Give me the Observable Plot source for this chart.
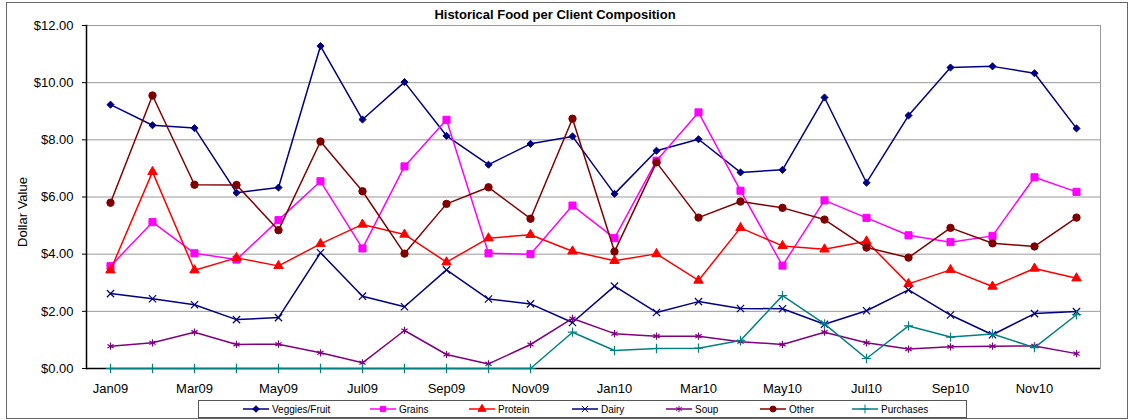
<!DOCTYPE html>
<html><head><meta charset="utf-8">
<script src="https://cdn.jsdelivr.net/npm/d3@7"></script>
<script src="https://cdn.jsdelivr.net/npm/@observablehq/plot@0.6"></script>
<style>
body{margin:0;background:#fff;font-family:Arial,"Liberation Sans",sans-serif;}
#wrap{position:relative;width:1129px;height:420px;overflow:hidden;}
#frame{position:absolute;left:6px;top:2px;width:1122px;height:417px;border:1px solid #666;box-sizing:border-box;pointer-events:none;}
#title{position:absolute;top:7px;left:555px;transform:translateX(-50%);font-weight:bold;font-size:13px;white-space:nowrap;color:#000;}
#ylab{position:absolute;left:22px;top:212px;transform:translate(-50%,-50%) rotate(-90deg);font-size:13px;white-space:nowrap;color:#000;}
#legend{position:absolute;left:198px;top:400px;width:769px;height:18px;border:1px solid #555;box-sizing:border-box;background:#fff;}
.li{position:absolute;top:0;height:16px;display:flex;align-items:center;font-size:10px;color:#000;white-space:nowrap;}
.li svg{margin-right:3px;}
#chart{position:absolute;left:0;top:0;}
</style></head>
<body>
<div id="wrap">
  <div id="chart"></div>
  <div id="frame"></div>
  <div id="title"></div>
  <div id="ylab"></div>
  <div id="legend"></div>
</div>
<script>
const months = ["Jan09","Feb09","Mar09","Apr09","May09","Jun09","Jul09","Aug09","Sep09","Oct09","Nov09","Dec09",
                "Jan10","Feb10","Mar10","Apr10","May10","Jun10","Jul10","Aug10","Sep10","Oct10","Nov10","Dec10"];
const xTickLabels = ["Jan09","Mar09","May09","Jul09","Sep09","Nov09","Jan10","Mar10","May10","Jul10","Sep10","Nov10"];
const yTicks = [0,2,4,6,8,10,12];

const veggiesFruit = [9.23,8.51,8.41,6.15,6.33,11.28,8.71,10.02,8.14,7.13,7.86,8.12,6.11,7.62,8.02,6.86,6.95,9.48,6.50,8.85,10.53,10.57,10.33,8.40];
const grains       = [3.58,5.12,4.03,3.81,5.19,6.55,4.20,7.07,8.70,4.03,4.00,5.70,4.56,7.27,8.96,6.22,3.60,5.88,5.27,4.66,4.42,4.64,6.69,6.18];
const protein      = [3.44,6.88,3.44,3.87,3.59,4.36,5.04,4.69,3.72,4.56,4.68,4.10,3.77,4.01,3.08,4.92,4.29,4.17,4.45,2.96,3.45,2.87,3.50,3.16];
const dairy        = [2.62,2.44,2.23,1.71,1.78,4.05,2.53,2.16,3.45,2.43,2.26,1.61,2.88,1.96,2.34,2.10,2.09,1.55,2.02,2.75,1.87,1.18,1.92,1.99];
const soup         = [0.78,0.90,1.27,0.84,0.85,0.55,0.20,1.33,0.49,0.16,0.84,1.75,1.22,1.13,1.13,0.94,0.84,1.27,0.90,0.68,0.76,0.78,0.79,0.52];
const other        = [5.80,9.55,6.43,6.42,4.84,7.94,6.20,4.02,5.76,6.34,5.24,8.74,4.09,7.21,5.28,5.84,5.62,5.21,4.23,3.88,4.92,4.38,4.27,5.28];
const purchases    = [0,0,0,0,0,0,0,0,0,0,0,1.27,0.63,0.70,0.71,0.98,2.55,1.56,0.35,1.49,1.10,1.21,0.73,1.88];

const seriesNames  = ["Veggies/Fruit","Grains","Protein","Dairy","Soup","Other","Purchases"];
const seriesValues = [veggiesFruit,grains,protein,dairy,soup,other,purchases];
const seriesColors = ["#000080","#FF00FF","#FF0000","#000080","#800080","#800000","#008080"];
const seriesSymbols= ["diamond2","square","triangle","times","asterisk","circle","plus"];
const seriesFilled = [true,true,true,false,false,true,false];
const seriesR      = [3.2,4.0,3.5,3.4,3.4,3.7,3.1];
const legendLeft   = [242,369,468,571,665,759,851];

const titleText = "Historical Food per Client Composition";
const yLabel = "Dollar Value";

document.getElementById("title").textContent = titleText;
document.getElementById("ylab").textContent = yLabel;

const marks = [
  Plot.gridY(yTicks, {stroke:"#999", strokeOpacity:1, strokeWidth:1}),
  Plot.frame({stroke:"#999"}),
  Plot.axisY(yTicks, {tickFormat: d => "$" + d.toFixed(2), tickSize:4, tickPadding:9, label:null, stroke:"#000"}),
  Plot.axisX(xTickLabels, {tickSize:0, tickPadding:15, label:null}),
  Plot.frame({anchor:"left", stroke:"#000", strokeWidth:1.5}),
  Plot.ruleY([0], {stroke:"#000", strokeWidth:1.5})
];

seriesNames.forEach((name,i) => {
  const rows = months.map((m,j) => ({month:m, value:seriesValues[i][j], series:name}));
  marks.push(Plot.line(rows, {x:"month", y:"value", stroke:seriesColors[i], strokeWidth:1.5}));
  marks.push(Plot.dot(rows, {
    x:"month", y:"value", symbol:() => seriesSymbols[i], r:seriesR[i],
    fill: seriesFilled[i] ? seriesColors[i] : "none",
    stroke: seriesColors[i], strokeWidth: seriesFilled[i] ? 1 : 1.2
  }));
});

const chart = Plot.plot({
  width:1129, height:420,
  marginLeft:86, marginRight:29, marginTop:25, marginBottom:52,
  style:{fontFamily:"Arial, 'Liberation Sans', sans-serif", fontSize:"13px", background:"transparent", color:"#000"},
  x:{type:"point", domain:months, padding:0.5, label:null, axis:null},
  y:{domain:[0,12], label:null, axis:null},
  marks
});
document.getElementById("chart").appendChild(chart);

// Legend
const legend = document.getElementById("legend");
seriesNames.forEach((name,i) => {
  const item = document.createElement("div");
  item.className = "li";
  item.style.left = (legendLeft[i] - 198) + "px";
  const svg = d3.create("svg").attr("width",26).attr("height",12);
  svg.append("line").attr("x1",0).attr("x2",26).attr("y1",6).attr("y2",6)
     .attr("stroke",seriesColors[i]).attr("stroke-width",1.5);
  const sym = {diamond2:d3.symbolDiamond2, square:d3.symbolSquare, triangle:d3.symbolTriangle,
               times:d3.symbolTimes, asterisk:d3.symbolAsterisk, circle:d3.symbolCircle, plus:d3.symbolPlus}[seriesSymbols[i]];
  svg.append("path").attr("transform","translate(13,6)")
     .attr("d", d3.symbol(sym, 28)())
     .attr("fill", seriesFilled[i] ? seriesColors[i] : "none")
     .attr("stroke", seriesColors[i]).attr("stroke-width",1);
  item.appendChild(svg.node());
  const t = document.createElement("span");
  t.textContent = name;
  item.appendChild(t);
  legend.appendChild(item);
});
</script>
</body></html>
